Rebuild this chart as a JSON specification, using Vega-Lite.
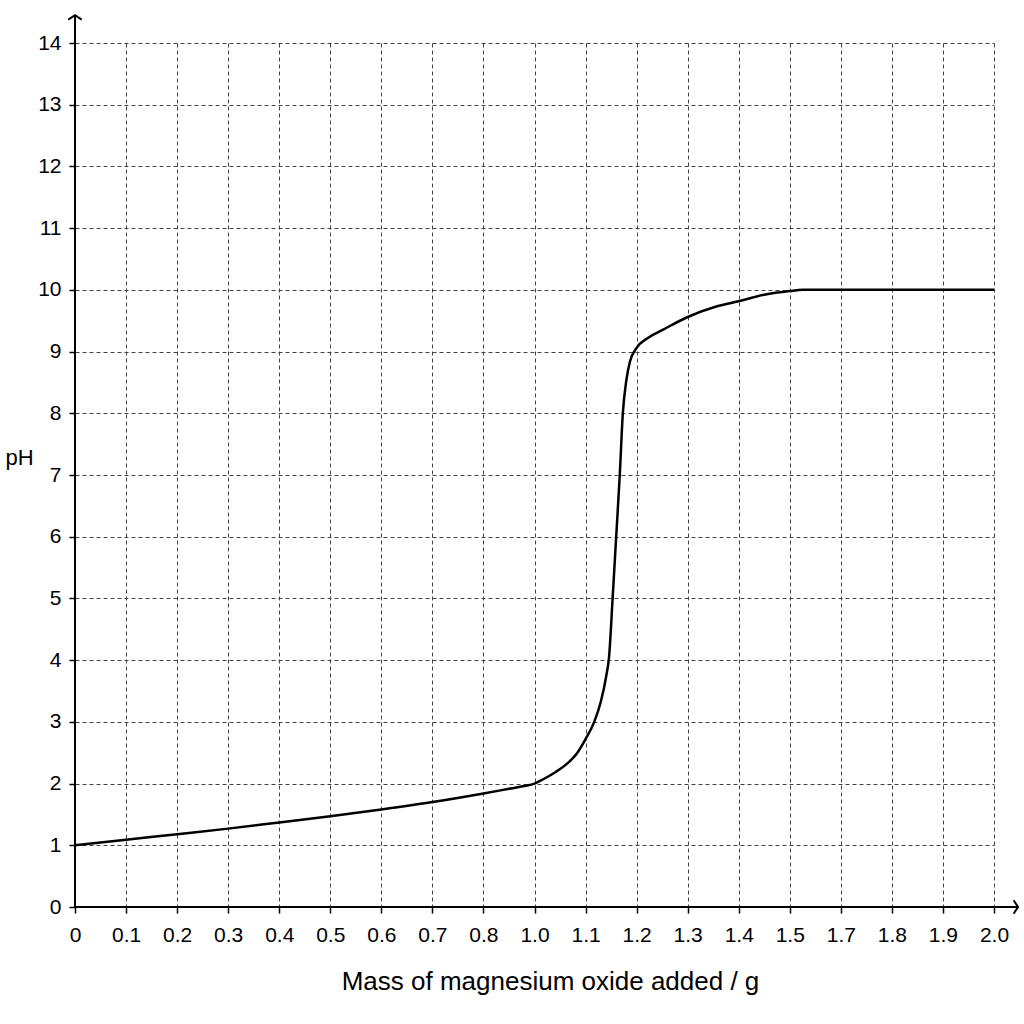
{
  "$schema": "https://vega.github.io/schema/vega-lite/v6.json",
  "width": 919,
  "height": 864,
  "autosize": {"type": "none"},
  "padding": {"left": 75, "top": 43, "right": 30, "bottom": 117},
  "background": "white",
  "config": {
    "view": {"stroke": null},
    "font": "Liberation Sans",
    "axis": {
      "domain": false,
      "grid": true,
      "gridColor": "#444444",
      "gridDash": [4, 3],
      "gridWidth": 1,
      "ticks": true,
      "tickColor": "black",
      "tickWidth": 1.5,
      "tickSize": 6,
      "labelColor": "black",
      "titleColor": "black",
      "labelFont": "Liberation Sans",
      "titleFont": "Liberation Sans",
      "titleFontWeight": "normal"
    }
  },
  "encoding": {
    "x": {
      "field": "mass",
      "type": "quantitative",
      "scale": {
        "domain": [0, 0.8, 1.0, 1.5, 1.7, 2.0],
        "range": [0, 408.44, 459.5, 714.78, 765.83, 919],
        "nice": false,
        "zero": false
      },
      "axis": {
        "values": [0, 0.1, 0.2, 0.3, 0.4, 0.5, 0.6, 0.7, 0.8, 1.0, 1.1, 1.2, 1.3, 1.4, 1.5, 1.7, 1.8, 1.9, 2.0],
        "labelExpr": "datum.value == 0 ? '0' : format(datum.value, '.1f')",
        "labelFontSize": 21,
        "labelPadding": 11,
        "labelFlush": false,
        "labelOverlap": false,
        "title": "Mass of magnesium oxide added / g",
        "titleFontSize": 26,
        "titleBaseline": "alphabetic",
        "titleX": 475,
        "titleY": 82
      }
    },
    "y": {
      "field": "pH",
      "type": "quantitative",
      "scale": {"domain": [0, 14], "nice": false},
      "axis": {
        "values": [0, 1, 2, 3, 4, 5, 6, 7, 8, 9, 10, 11, 12, 13, 14],
        "labelFontSize": 21,
        "labelPadding": 8,
        "labelFlush": false,
        "labelOverlap": false,
        "title": "pH",
        "titleFontSize": 22,
        "titleAngle": 0,
        "titleAlign": "left",
        "titleBaseline": "middle",
        "titleX": -70,
        "titleY": 414
      }
    }
  },
  "layer": [
    {
      "data": {"values": [
        {"mass": 0, "pH": 1.0},
        {"mass": 0.1, "pH": 1.09},
        {"mass": 0.2, "pH": 1.18},
        {"mass": 0.3, "pH": 1.27},
        {"mass": 0.4, "pH": 1.37},
        {"mass": 0.5, "pH": 1.47},
        {"mass": 0.6, "pH": 1.58},
        {"mass": 0.7, "pH": 1.70},
        {"mass": 0.8, "pH": 1.84},
        {"mass": 0.9, "pH": 1.915},
        {"mass": 0.96, "pH": 1.96},
        {"mass": 1.0, "pH": 2.0},
        {"mass": 1.017, "pH": 2.07},
        {"mass": 1.04, "pH": 2.18},
        {"mass": 1.065, "pH": 2.33},
        {"mass": 1.084, "pH": 2.50},
        {"mass": 1.1, "pH": 2.72},
        {"mass": 1.117, "pH": 3.0},
        {"mass": 1.13, "pH": 3.33},
        {"mass": 1.14, "pH": 3.72},
        {"mass": 1.146, "pH": 4.05},
        {"mass": 1.153, "pH": 5.0},
        {"mass": 1.16, "pH": 6.0},
        {"mass": 1.167, "pH": 7.0},
        {"mass": 1.173, "pH": 8.0},
        {"mass": 1.18, "pH": 8.54},
        {"mass": 1.187, "pH": 8.84},
        {"mass": 1.2, "pH": 9.06},
        {"mass": 1.222, "pH": 9.22},
        {"mass": 1.253, "pH": 9.36},
        {"mass": 1.3, "pH": 9.56},
        {"mass": 1.356, "pH": 9.73},
        {"mass": 1.402, "pH": 9.82},
        {"mass": 1.45, "pH": 9.92},
        {"mass": 1.5, "pH": 9.98},
        {"mass": 1.55, "pH": 10.0},
        {"mass": 1.7, "pH": 10.0},
        {"mass": 2.0, "pH": 10.0}
      ]},
      "mark": {"type": "line", "interpolate": "monotone", "color": "black", "strokeWidth": 2.5}
    },
    {
      "data": {"values": [
        {"mass": 0, "pH": 0, "mass2": 2.047, "pH2": 0},
        {"mass": 0, "pH": 0, "mass2": 0, "pH2": 14.45}
      ]},
      "mark": {"type": "rule", "color": "black", "strokeWidth": 2},
      "encoding": {
        "x2": {"field": "mass2"},
        "y2": {"field": "pH2"}
      }
    },
    {
      "data": {"values": [{"mass": 0, "pH": 14.45}]},
      "mark": {"type": "point", "shape": "M -1 0.65 L 0 0 L 1 0.65", "size": 180, "filled": false, "stroke": "black", "strokeWidth": 2, "opacity": 1}
    },
    {
      "data": {"values": [{"mass": 2.047, "pH": 0}]},
      "mark": {"type": "point", "shape": "M -0.65 -1 L 0 0 L -0.65 1", "size": 180, "filled": false, "stroke": "black", "strokeWidth": 2, "opacity": 1}
    }
  ]
}
